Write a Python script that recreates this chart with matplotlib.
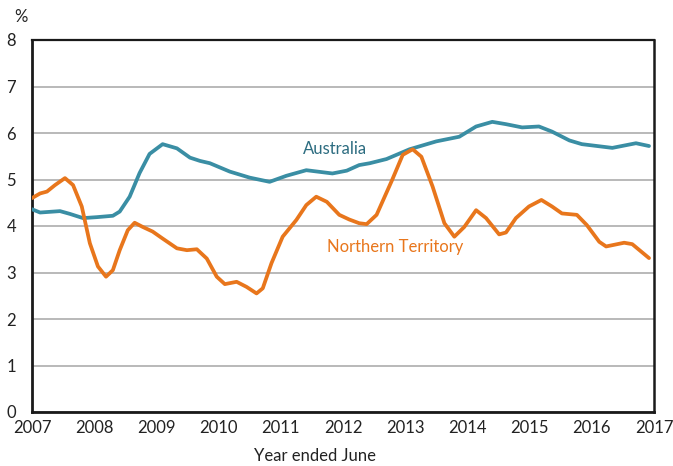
import matplotlib
matplotlib.use("Agg")
import matplotlib.pyplot as plt

# ------------------------------------------------------------------
# Data (x = years, y = %)
# ------------------------------------------------------------------
aus_year = [
    2007.00, 2007.13, 2007.45, 2007.61, 2007.82, 2008.04, 2008.30, 2008.41,
    2008.57, 2008.73, 2008.89, 2009.10, 2009.33, 2009.54, 2009.70, 2009.86,
    2010.18, 2010.50, 2010.82, 2011.09, 2011.41, 2011.83, 2012.06, 2012.26,
    2012.43, 2012.70, 2013.07, 2013.50, 2013.87, 2014.14, 2014.40, 2014.62,
    2014.88, 2015.15, 2015.36, 2015.64, 2015.84, 2016.33, 2016.71, 2016.92,
]
aus_rate = [
    4.36, 4.29, 4.32, 4.26, 4.17, 4.19, 4.22, 4.31,
    4.63, 5.14, 5.55, 5.76, 5.67, 5.47, 5.40, 5.35,
    5.17, 5.04, 4.95, 5.08, 5.20, 5.13, 5.19, 5.31,
    5.35, 5.44, 5.65, 5.82, 5.92, 6.14, 6.24, 6.19,
    6.12, 6.14, 6.03, 5.84, 5.76, 5.68, 5.78, 5.72,
]

nt_year = [
    2007.00, 2007.13, 2007.24, 2007.37, 2007.53, 2007.66, 2007.80, 2007.93,
    2008.06, 2008.19, 2008.30, 2008.41, 2008.54, 2008.65, 2008.78, 2008.94,
    2009.10, 2009.33, 2009.49, 2009.65, 2009.81, 2009.97, 2010.10, 2010.29,
    2010.45, 2010.61, 2010.71, 2010.85, 2011.03, 2011.25, 2011.41, 2011.57,
    2011.74, 2011.94, 2012.10, 2012.26, 2012.38, 2012.54, 2012.79, 2012.96,
    2013.12, 2013.26, 2013.44, 2013.63, 2013.79, 2013.95, 2014.14, 2014.30,
    2014.51, 2014.62, 2014.78, 2014.99, 2015.19, 2015.36, 2015.52, 2015.76,
    2015.92, 2016.12, 2016.23, 2016.52, 2016.65, 2016.92,
]
nt_rate = [
    4.60, 4.70, 4.74, 4.88, 5.03, 4.88, 4.42, 3.63,
    3.13, 2.91, 3.05, 3.48, 3.91, 4.07, 3.98, 3.88,
    3.73, 3.52, 3.48, 3.50, 3.30, 2.91, 2.75, 2.80,
    2.69, 2.55, 2.66, 3.20, 3.77, 4.13, 4.45, 4.63,
    4.52, 4.24, 4.14, 4.06, 4.04, 4.24, 4.99, 5.53,
    5.65, 5.49, 4.85, 4.06, 3.77, 3.98, 4.34, 4.17,
    3.82, 3.86, 4.17, 4.42, 4.56, 4.42, 4.27, 4.24,
    4.02, 3.66, 3.56, 3.64, 3.61, 3.31,
]

x_ticks = list(range(2007, 2018))
y_ticks = list(range(0, 9))

AUS_COLOUR = "#3a8ea4"
AUS_TEXT = "#2c6c80"
NT_COLOUR = "#e8761c"

plt.rcParams["font.family"] = ["Lato", "DejaVu Sans"]

fig = plt.figure(figsize=(6.73, 4.66), dpi=100)
ax = fig.add_axes([32 / 673, 1 - 412 / 466, 622 / 673, 372 / 466])

ax.plot(aus_year, aus_rate, color=AUS_COLOUR, lw=2.7, solid_joinstyle="round",
        solid_capstyle="round", zorder=3)
ax.plot(nt_year, nt_rate, color=NT_COLOUR, lw=2.7, solid_joinstyle="round",
        solid_capstyle="round", zorder=3)

ax.set_xlim(2007, 2017)
ax.set_ylim(0, 8)
ax.set_xticks(x_ticks)
ax.set_yticks(y_ticks)
ax.tick_params(length=0, labelsize=12, colors="#222222", pad=6)
for lbl in ax.get_yticklabels():
    lbl.set_horizontalalignment("center")
ax.yaxis.set_tick_params(pad=15)

ax.grid(axis="y", color="#a6a6a6", lw=1.1)
ax.set_axisbelow(True)
for side, w in (("left", 2.0), ("bottom", 2.0), ("top", 1.6), ("right", 1.8)):
    ax.spines[side].set_linewidth(w)
    ax.spines[side].set_color("#1a1a1a")

ax.text(2011.36, 5.65, "Australia", color=AUS_TEXT, fontsize=12,
        ha="left", va="center")
ax.text(2011.74, 3.55, "Northern Territory", color=NT_COLOUR, fontsize=12,
        ha="left", va="center")

fig.text(21 / 673, 1 - 17 / 466, "%", fontsize=12, ha="center", va="center",
         color="#222222")
fig.text(315 / 673, 1 - 456 / 466, "Year ended June", fontsize=12,
         ha="center", va="center", color="#222222")

fig.savefig("out.png", dpi=100)
